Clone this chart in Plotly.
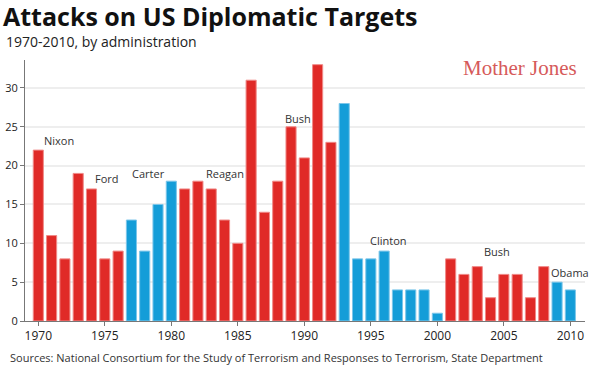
import plotly.graph_objects as go

years = list(range(1970, 2011))
attacks = [22, 11, 8, 19, 17, 8, 9, 13, 9, 15, 18, 17, 18, 17, 13, 10, 31, 14, 18, 25,
           21, 33, 23, 28, 8, 8, 9, 4, 4, 4, 1, 8, 6, 7, 3, 6, 6, 3, 7, 5, 4]
party = ["R"] * 7 + ["D"] * 4 + ["R"] * 12 + ["D"] * 8 + ["R"] * 8 + ["D"] * 2

admin_labels = ["Nixon", "Ford", "Carter", "Reagan", "Bush", "Clinton", "Bush", "Obama"]
admin_x = [1971.56, 1975.17, 1978.29, 1984.0, 1989.53, 1996.33, 2004.5, 2009.94]
admin_y = [23.2, 18.3, 19.0, 19.0, 26.1, 10.4, 9.0, 6.2]

y_ticks = [0, 5, 10, 15, 20, 25, 30]
x_ticks = [1970, 1975, 1980, 1985, 1990, 1995, 2000, 2005, 2010]

RED = "#E02A27"
BLUE = "#149DD8"
colors = [RED if p == "R" else BLUE for p in party]
edges = ["#F08A88" if p == "R" else "#7CC6EA" for p in party]

W, H = 590, 368
L, R, T, B = 25, 5, 60, 47
PW, PH = W - L - R, H - T - B


def px(x):
    return (x - L) / PW


def py(y):
    return (H - B - y) / PH


fig = go.Figure()
fig.add_trace(go.Bar(
    x=years, y=attacks,
    marker=dict(color=colors, line=dict(color=edges, width=1)),
    width=0.76,
    hoverinfo="x+y",
))

annotations = []
for t, x, y in zip(admin_labels, admin_x, admin_y):
    annotations.append(dict(x=x, y=y, text=t, showarrow=False,
                            font=dict(family="Open Sans", size=11, color="#333")))

annotations += [
    dict(xref="paper", yref="paper", x=px(4), y=py(41),
         xanchor="left", yanchor="middle",
         text="1970-2010, by administration", showarrow=False,
         font=dict(family="Open Sans", size=14, color="#222")),
    dict(xref="paper", yref="paper", x=px(579), y=py(68),
         xanchor="right", yanchor="middle",
         text="Mother Jones", showarrow=False,
         font=dict(family="Liberation Serif", size=21, color="#D65A5A")),
    dict(xref="paper", yref="paper", x=px(8), y=py(357),
         xanchor="left", yanchor="middle",
         text="Sources: National Consortium for the Study of Terrorism and Responses to Terrorism, State Department",
         showarrow=False, font=dict(family="Open Sans", size=11, color="#333")),
]

fig.update_layout(
    width=W, height=H,
    margin=dict(l=L, r=R, t=T, b=B, autoexpand=False),
    plot_bgcolor="white", paper_bgcolor="white",
    showlegend=False,
    font=dict(family="Open Sans", size=11, color="#333"),
    title=dict(
        text="<b>Attacks on US Diplomatic Targets</b>",
        x=3 / W, xanchor="left", xref="container",
        y=1 - 17 / H, yanchor="middle", yref="container",
        font=dict(family="Open Sans", size=25, color="#111"),
    ),
    annotations=annotations,
    xaxis=dict(
        range=[1969.0, 2011.1], tickvals=x_ticks, ticks="outside", ticklen=4,
        tickcolor="#777", showgrid=False, showline=True, linecolor="#777", linewidth=1,
        zeroline=False, tickfont=dict(size=12, color="#222"), automargin=False,
    ),
    yaxis=dict(
        range=[0, 33.6], tickvals=y_ticks, ticks="outside", ticklen=4, tickcolor="#777",
        showgrid=True, gridcolor="#EEEEEE", gridwidth=2, showline=True, linecolor="#777",
        linewidth=1, zeroline=False, tickfont=dict(size=11, color="#222"), automargin=False,
    ),
    bargap=0.24,
)

fig.write_html("out.html", config={"displayModeBar": False},
               post_script="document.body.style.margin='0px';")
